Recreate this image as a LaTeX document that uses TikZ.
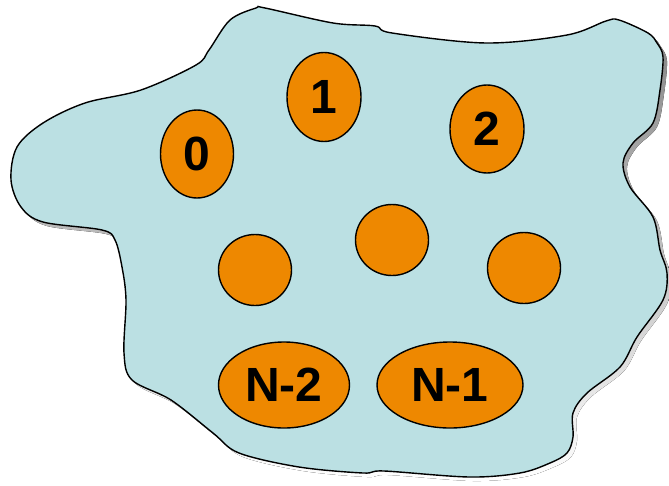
\documentclass[tikz,border=0pt]{standalone}
\usepackage{fontspec}
\setmainfont{Liberation Sans}
\usetikzlibrary{shapes.geometric}
\definecolor{blobfill}{RGB}{187,224,227}
\definecolor{proc}{RGB}{238,136,0}
\definecolor{shade}{RGB}{120,120,120}
\tikzset{
  procnode/.style={ellipse, draw=black, line width=1.4pt, fill=proc, inner sep=0pt,
    font=\fontsize{48}{48}\selectfont\bfseries, text=black},
  blobline/.style={draw=black, line width=1.4pt, fill=blobfill}
}
\begin{document}
\begin{tikzpicture}[x=1pt,y=-1pt]
\useasboundingbox (0,0) rectangle (669,485);
\def\blobpath{plot[smooth cycle, tension=0.55] coordinates {
(256,8) (230,20) (209,50) (196,65) (141,90) (85,103) (43,123) (17,147) (11,180) (21,207) (43,222) (102,230) (115,240) (122,267) (126,300) (124,353) (132,380) (171,400) (213,433) (239,453) (299,467) (363,473) (384,471) (469,477) (520,473) (550,463) (567,453) (573,437) (573,413) (587,393) (620,367) (637,337) (663,300) (667,273) (660,250) (653,217) (630,187) (623,163) (633,143) (653,123) (660,90) (663,57) (657,43) (648,33) (619,20) (606,21) (567,35) (486,43) (392,33) (375,26) (333,23) (265,8)}}
\fill[shade] [shift={(4,4)}] \blobpath;
\path[blobline] \blobpath;
\node[procnode, minimum width=73pt, minimum height=88pt] (p0) at (197,154) {0};
\node[procnode, minimum width=74pt, minimum height=89pt] (p1) at (324,97) {1};
\node[procnode, minimum width=74pt, minimum height=88pt] (p2) at (487,129) {2};
\node[procnode, minimum width=73pt, minimum height=71pt] (pl) at (255,270) {};
\node[procnode, minimum width=73pt, minimum height=71pt] (pc) at (392,240) {};
\node[procnode, minimum width=73pt, minimum height=71pt] (pr) at (524,268) {};
\node[procnode, minimum width=131pt, minimum height=86pt] (pn2) at (284,385) {N-2};
\node[procnode, minimum width=146pt, minimum height=86pt] (pn1) at (450,385) {N-1};
\end{tikzpicture}
\end{document}
